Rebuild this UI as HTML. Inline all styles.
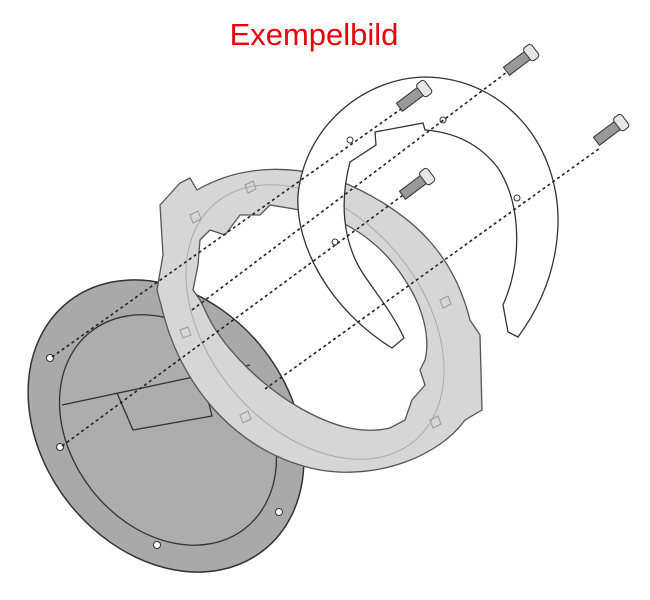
<!DOCTYPE html>
<html><head><style>
html,body{margin:0;padding:0;background:#fff;width:650px;height:600px;overflow:hidden}
</style></head><body>
<svg width="650" height="600" viewBox="0 0 650 600" xmlns="http://www.w3.org/2000/svg">
<rect width="650" height="600" fill="#fff"/>
<text x="314" y="45" text-anchor="middle" font-family="Liberation Sans, sans-serif" font-size="31" fill="#e8000a">Exempelbild</text>

<!-- bottom plate -->
<ellipse cx="166" cy="426" rx="158" ry="124" transform="rotate(52 166 426)" fill="#a9a9a9" stroke="#333" stroke-width="1.5"/>
<ellipse cx="168" cy="430" rx="125" ry="97" transform="rotate(52 168 430)" fill="#adadad" stroke="#333" stroke-width="1.3"/>
<path d="M62 405 L250 365" fill="none" stroke="#333" stroke-width="1.3"/>
<path d="M117 393 L133 430 L212 416 L204 384" fill="none" stroke="#333" stroke-width="1.3"/>
<g fill="#fff" stroke="#333" stroke-width="1">
<circle cx="50" cy="358" r="3.5"/><circle cx="60" cy="447" r="3.5"/>
<circle cx="263" cy="390" r="3.5"/><circle cx="279" cy="512" r="3.5"/>
<circle cx="157" cy="545" r="3.5"/>
</g>

<!-- grey ring -->
<path fill-rule="evenodd" fill="#d6d6d6" stroke="#555" stroke-width="1.3"
 d="M160 205 L180 183 L190 178 L197 190 C240 165 300 160 360 190 C420 220 455 260 470 320 L480 335 L482 410 L465 420 C440 455 380 480 320 470 C240 455 185 390 165 320 L157 290 L163 255 Z
 M200 240 L210 230 L225 235 L240 215 L260 215 L270 205 L300 210 C340 215 380 240 405 280 C425 310 430 340 425 360 L420 370 L425 385 L412 400 L405 420 L390 428 C360 435 330 425 300 408 C260 385 220 345 205 310 L200 300 L193 290 L198 265 Z"/>
<ellipse cx="315" cy="322" rx="155" ry="107" transform="rotate(50 315 322)" fill="none" stroke="#aaa" stroke-width="1"/>
<g fill="none" stroke="#999" stroke-width="1">
<path d="M190 215 l8 -4 l3 8 l-8 4 z"/><path d="M245 185 l8 -4 l3 8 l-8 4 z"/><path d="M180 330 l8 -3 l3 8 l-8 3 z"/>
<path d="M240 415 l8 -4 l3 8 l-8 4 z"/><path d="M440 300 l8 -4 l3 8 l-8 4 z"/><path d="M430 420 l8 -4 l3 8 l-8 4 z"/>
</g>

<!-- white half ring plate -->
<path fill="#fff" stroke="#333" stroke-width="1.3"
 d="M392 348 C330 310 295 245 298 195 C305 125 365 78 425 77 C505 78 560 145 558 225 C556 280 532 318 518 337 L508 332 L503 305 C522 262 522 205 498 168 C478 142 452 132 425 130 L423 123 L375 132 L376 145 L350 162 C340 200 342 240 362 272 C375 292 392 312 404 338 Z"/>
<g fill="#fff" stroke="#333" stroke-width="1">
<circle cx="350" cy="140" r="3"/><circle cx="443" cy="120" r="3"/>
<circle cx="335" cy="242" r="3"/><circle cx="517" cy="198" r="3"/>
</g>

<!-- dotted lines -->
<g stroke="#222" stroke-width="1.6" stroke-dasharray="3 3" fill="none">
<line x1="52" y1="357" x2="408" y2="104"/>
<line x1="62" y1="446" x2="410" y2="190"/>
<line x1="192" y1="310" x2="515" y2="66"/>
<line x1="265" y1="389" x2="600" y2="148"/>
</g>

<!-- screws -->
<g stroke="#333" stroke-width="1">
<g transform="translate(532 52) rotate(-37)"><rect x="-32" y="-5" width="28" height="10" fill="#999"/><rect x="-6" y="-8" width="10" height="16" rx="3" fill="#e6e6e6"/></g>
<g transform="translate(425 88) rotate(-37)"><rect x="-32" y="-5" width="28" height="10" fill="#999"/><rect x="-6" y="-8" width="10" height="16" rx="3" fill="#e6e6e6"/></g>
<g transform="translate(622 122) rotate(-37)"><rect x="-32" y="-5" width="28" height="10" fill="#999"/><rect x="-6" y="-8" width="10" height="16" rx="3" fill="#e6e6e6"/></g>
<g transform="translate(428 176) rotate(-37)"><rect x="-32" y="-5" width="28" height="10" fill="#999"/><rect x="-6" y="-8" width="10" height="16" rx="3" fill="#e6e6e6"/></g>
</g>
</svg>
</body></html>
